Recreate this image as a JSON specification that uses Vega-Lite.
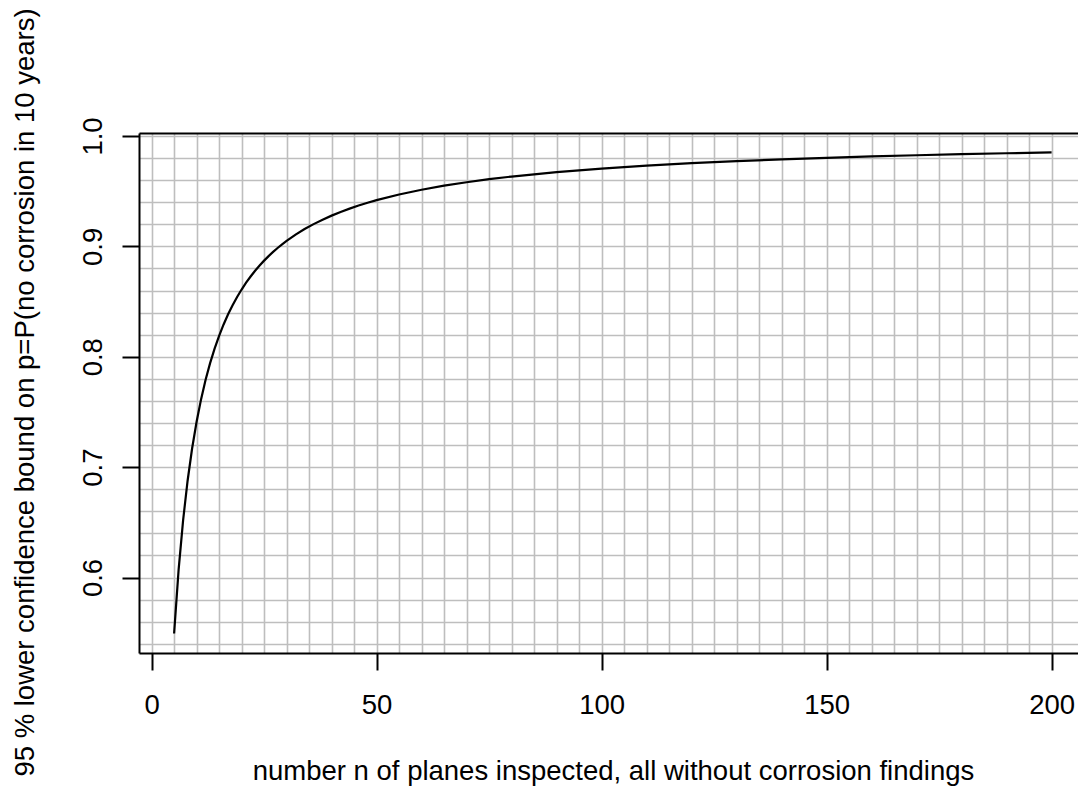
{
  "$schema": "https://vega.github.io/schema/vega-lite/v6.json",
  "autosize": "none",
  "width": 939,
  "height": 520,
  "padding": {"left": 139, "top": 133, "right": 0, "bottom": 134},
  "background": "white",
  "config": {
    "view": {"stroke": null},
    "font": "Liberation Sans",
    "axis": {"labelFont": "Liberation Sans", "titleFont": "Liberation Sans", "labelFontWeight": "normal", "titleFontWeight": "normal"}
  },
  "data": {
    "values": [
      {"n": 5, "p": 0.54928}, {"n": 6, "p": 0.606962}, {"n": 7, "p": 0.651836}, {"n": 8, "p": 0.687656},
      {"n": 9, "p": 0.716871}, {"n": 10, "p": 0.741134}, {"n": 11, "p": 0.761597}, {"n": 12, "p": 0.779077},
      {"n": 13, "p": 0.794183}, {"n": 14, "p": 0.807363}, {"n": 15, "p": 0.818963}, {"n": 16, "p": 0.82925},
      {"n": 17, "p": 0.838434}, {"n": 18, "p": 0.846681}, {"n": 19, "p": 0.854131}, {"n": 20, "p": 0.860891},
      {"n": 21, "p": 0.867054}, {"n": 22, "p": 0.872694}, {"n": 23, "p": 0.877877}, {"n": 24, "p": 0.882654},
      {"n": 25, "p": 0.887072}, {"n": 26, "p": 0.89117}, {"n": 27, "p": 0.894981}, {"n": 28, "p": 0.898535},
      {"n": 29, "p": 0.901856}, {"n": 30, "p": 0.904966}, {"n": 32, "p": 0.910632}, {"n": 34, "p": 0.915661},
      {"n": 36, "p": 0.920154}, {"n": 38, "p": 0.924193}, {"n": 40, "p": 0.927843}, {"n": 42, "p": 0.931158},
      {"n": 44, "p": 0.934182}, {"n": 46, "p": 0.936951}, {"n": 48, "p": 0.939497}, {"n": 50, "p": 0.941845},
      {"n": 55, "p": 0.946989}, {"n": 60, "p": 0.951297}, {"n": 65, "p": 0.954958}, {"n": 70, "p": 0.958107},
      {"n": 75, "p": 0.960844}, {"n": 80, "p": 0.963246}, {"n": 90, "p": 0.967262}, {"n": 100, "p": 0.970488},
      {"n": 110, "p": 0.973134}, {"n": 120, "p": 0.975345}, {"n": 130, "p": 0.97722}, {"n": 140, "p": 0.97883},
      {"n": 150, "p": 0.980226}, {"n": 160, "p": 0.981452}, {"n": 170, "p": 0.982533}, {"n": 180, "p": 0.983495},
      {"n": 190, "p": 0.984357}, {"n": 200, "p": 0.985133}
    ]
  },
  "layer": [
    {
      "mark": {"type": "line", "opacity": 0},
      "encoding": {
        "x": {
          "field": "n", "type": "quantitative",
          "scale": {"domain": [-2.8, 205.87], "nice": false, "zero": false},
          "axis": {
            "orient": "top", "zindex": 0,
            "values": [0,5,10,15,20,25,30,35,40,45,50,55,60,65,70,75,80,85,90,95,100,105,110,115,120,125,130,135,140,145,150,155,160,165,170,175,180,185,190,195,200],
            "grid": true, "gridColor": "#bebebe", "gridWidth": 1.6, "gridOpacity": 1,
            "labels": false, "ticks": false, "domain": true, "domainColor": "black", "domainWidth": 2, "title": null
          }
        },
        "y": {
          "field": "p", "type": "quantitative",
          "scale": {"domain": [0.5316, 1.0027], "nice": false, "zero": false},
          "axis": {
            "orient": "right", "zindex": 0,
            "values": [0.54,0.56,0.58,0.6,0.62,0.64,0.66,0.68,0.7,0.72,0.74,0.76,0.78,0.8,0.82,0.84,0.86,0.88,0.9,0.92,0.94,0.96,0.98,1.0],
            "grid": true, "gridColor": "#bebebe", "gridWidth": 1.6, "gridOpacity": 1,
            "labels": false, "ticks": false, "domain": false, "title": null
          }
        }
      }
    },
    {
      "mark": {"type": "line", "color": "black", "strokeWidth": 2.2},
      "encoding": {
        "x": {
          "field": "n", "type": "quantitative",
          "axis": {
            "orient": "bottom", "zindex": 1,
            "values": [0, 50, 100, 150, 200], "grid": false,
            "domain": true, "domainColor": "black", "domainWidth": 2,
            "ticks": true, "tickColor": "black", "tickWidth": 2, "tickSize": 17,
            "labelFontSize": 27.5, "labelColor": "black", "labelBaseline": "alphabetic", "labelPadding": 43,
            "labelFlush": false, "labelOverlap": false,
            "title": "number n of planes inspected, all without corrosion findings",
            "titleFontSize": 27.5, "titleColor": "black", "titleX": 474, "titleY": 126,
            "titleAlign": "center", "titleBaseline": "alphabetic", "titleAnchor": null
          }
        },
        "y": {
          "field": "p", "type": "quantitative",
          "axis": {
            "orient": "left", "zindex": 1,
            "values": [0.6, 0.7, 0.8, 0.9, 1.0], "format": ".1f", "grid": false,
            "domain": true, "domainColor": "black", "domainWidth": 2,
            "ticks": true, "tickColor": "black", "tickWidth": 2, "tickSize": 17,
            "labelFontSize": 27.5, "labelColor": "black", "labelAngle": 270, "labelAlign": "center", "labelBaseline": "alphabetic", "labelPadding": 21,
            "labelFlush": false, "labelOverlap": false,
            "title": "95 % lower confidence bound on p=P(no corrosion in 10 years)",
            "titleFontSize": 27.5, "titleColor": "black", "titleAngle": 270, "titleX": -106, "titleY": 259,
            "titleAlign": "center", "titleBaseline": "alphabetic", "titleAnchor": null
          }
        }
      }
    }
  ],
  "resolve": {"axis": {"x": "independent", "y": "independent"}}
}
